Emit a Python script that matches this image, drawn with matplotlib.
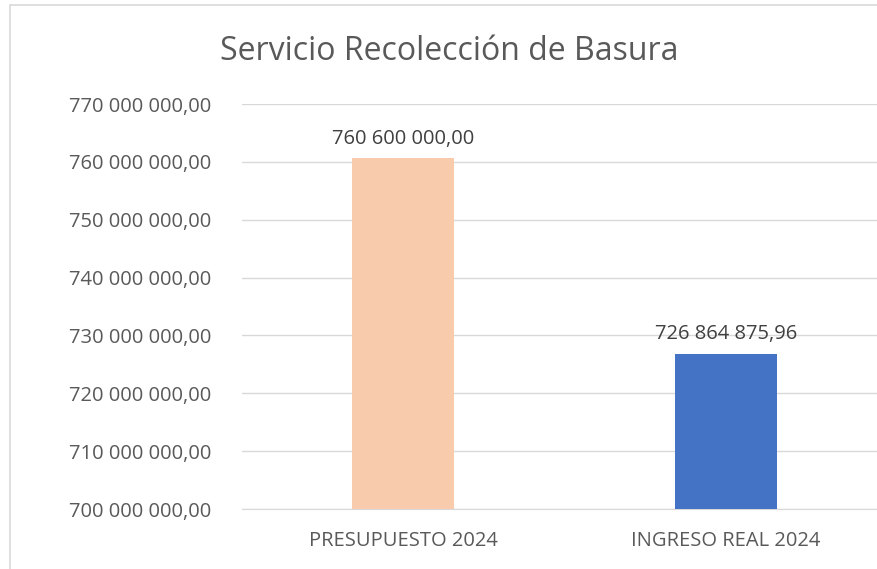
import matplotlib
matplotlib.use('Agg')
from matplotlib import pyplot as plt
from matplotlib.patches import Rectangle
from matplotlib.ticker import FuncFormatter

# Chart data
categories = ['PRESUPUESTO 2024', 'INGRESO REAL 2024']
values = [760600000.00, 726864875.96]
bar_colors = ['#F8CBAD', '#4472C4']
title = 'Servicio Recolección de Basura'


def fmt_es(v, pos=None):
    # 760 600 000,00 style
    s = '{:,.2f}'.format(v)
    return s.replace(',', ' ').replace('.', ',')


plt.rcParams['font.family'] = ['Open Sans', 'DejaVu Sans']
text_color = '#595959'

fig = plt.figure(figsize=(8.77, 5.69), dpi=100)
ax = fig.add_axes([0.2754, 0.1054, 0.7366, 0.7118])

x = list(range(len(categories)))
bars = ax.bar(x, values, width=0.316, color=bar_colors, zorder=3)

ax.set_xlim(-0.5, len(categories) - 0.5)
ax.set_ylim(700000000, 770000000)
ax.set_yticks(range(700000000, 770000001, 10000000))
ax.yaxis.set_major_formatter(FuncFormatter(fmt_es))
ax.set_xticks(x)
ax.set_xticklabels(categories)

ax.grid(axis='y', color='#D9D9D9', linewidth=1, zorder=0)
for side in ['top', 'right', 'left']:
    ax.spines[side].set_visible(False)
ax.spines['bottom'].set_color('#D9D9D9')
ax.tick_params(axis='both', length=0, colors=text_color, labelsize=14.5)
ax.tick_params(axis='y', pad=22)
ax.tick_params(axis='x', pad=16)

# Value labels above bars
for rect, v in zip(bars, values):
    ax.annotate(fmt_es(v), (rect.get_x() + rect.get_width() / 2, v),
                xytext=(0, 7), textcoords='offset points',
                ha='center', va='bottom', fontsize=14.5, color='#404040')

fig.text(0.512, 0.909, title, ha='center', va='center',
         fontsize=23, color=text_color)

# Chart area border
fig.patches.append(Rectangle((10 / 877, -0.1), 1.1, 0.1 + 564 / 569,
                             transform=fig.transFigure, fill=False,
                             edgecolor='#D9D9D9', linewidth=1.2))

fig.savefig('out.png', dpi=100)
